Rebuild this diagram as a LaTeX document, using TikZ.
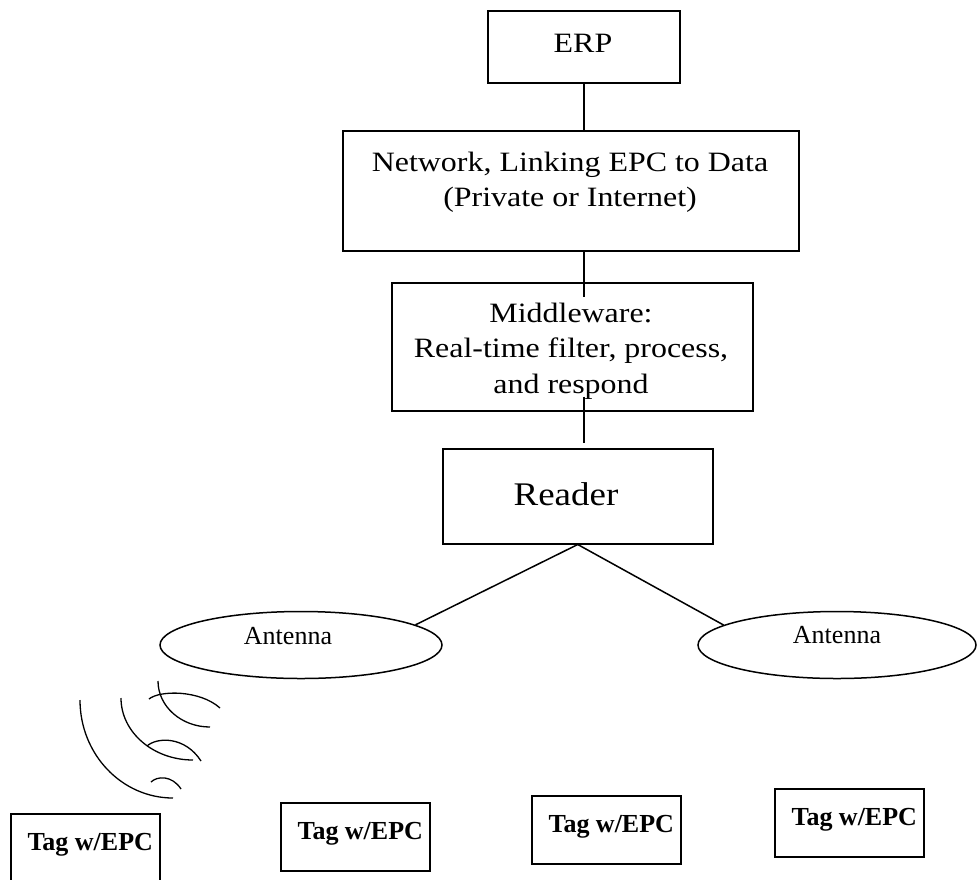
\documentclass[tikz,border=0pt]{standalone}
\usepackage{fontspec}
\setmainfont{Liberation Serif}
\usepackage{graphicx}
\usetikzlibrary{shapes.geometric,calc}

% slightly widened serif text for the system boxes
\newcommand{\wide}[1]{\scalebox{1.14}[1]{#1}}

\tikzset{
  box/.style={draw, line width=1.5pt, inner sep=0pt, anchor=north west},
  lbl/.style={anchor=base, inner sep=0pt, font=\fontsize{28}{34}\selectfont},
  ant/.style={draw, ellipse, line width=1.5pt, inner sep=0pt},
  link/.style={line width=1.5pt},
  wave/.style={line width=1.3pt},
  tagbox/.style={draw, line width=1.5pt, inner xsep=0pt, inner ysep=0pt,
    anchor=north west, minimum width=149pt, text height=37pt, text depth=31pt,
    font=\fontsize{26}{30}\selectfont\bfseries},
}

\begin{document}
\begin{tikzpicture}[x=1pt,y=-1pt]
\useasboundingbox (0,0) rectangle (977,879);
\clip (0,0) rectangle (977,879);

% system chain
\node[box, minimum width=192pt, minimum height=72pt] (erp) at (487,10) {};
\node[lbl] (erpl) at (583,52) {\wide{ERP}};

\node[box, minimum width=456pt, minimum height=120pt] (net) at (342,130) {};
\node[lbl] (net1) at (570,171) {\wide{Network, Linking EPC to Data}};
\node[lbl] (net2) at (570,206) {\wide{(Private or Internet)}};

\node[box, minimum width=361pt, minimum height=128pt] (mw) at (391,282) {};
\node[lbl] (mw1) at (571,322) {\wide{Middleware:}};
\node[lbl] (mw2) at (571,357) {\wide{Real-time filter, process,}};
\node[lbl] (mw3) at (571,393) {\wide{and respond}};

\node[box, minimum width=270pt, minimum height=95pt] (rd) at (442,448) {};
\node[lbl, font=\fontsize{33}{40}\selectfont] (rdl) at (566,505) {\scalebox{1.12}[1]{Reader}};

% antennas
\node[ant, minimum width=282pt, minimum height=67pt] (antL) at (301,645) {};
\node[lbl, font=\fontsize{26}{30}\selectfont] (antLl) at (288,644) {Antenna};
\node[ant, minimum width=278pt, minimum height=67pt] (antR) at (837,645) {};
\node[lbl, font=\fontsize{26}{30}\selectfont] (antRl) at (837,643) {Antenna};

% connectors
\draw[link] (erp.south) -- (erp.south |- net.north);
\draw[link] (net.south -| erp.south) -- ($(mw.north -| erp.south)+(0,15)$);
\draw[link] ($(mw.south -| erp.south)+(0,-15)$) -- ($(rd.north -| erp.south)+(0,-5)$);
\draw[link] (rd.south) -- (antL.10);
\draw[link] (rd.south) -- (antR.170);

% radio waves from the left antenna
\draw[wave] (80,700) arc[start angle=180, end angle=90, x radius=93, y radius=98];
\draw[wave] (121,698) arc[start angle=180, end angle=90, x radius=72, y radius=62];
\draw[wave] (158,681) arc[start angle=180, end angle=90, x radius=52, y radius=46];
\draw[wave] (149,699) .. controls (160,690) and (200,690) .. (220,708);
\draw[wave] (147,746) .. controls (157,737) and (185,736) .. (201,761);
\draw[wave] (151,782) .. controls (157,776) and (172,775) .. (181,789);

% tags
\node[tagbox] (tag1) at (10,813) {\hspace{10pt}Tag w/EPC};
\node[tagbox] (tag2) at (280,802) {\hspace{10pt}Tag w/EPC};
\node[tagbox] (tag3) at (531,795) {\hspace{10pt}Tag w/EPC};
\node[tagbox] (tag4) at (774,788) {\hspace{10pt}Tag w/EPC};
\end{tikzpicture}
\end{document}
